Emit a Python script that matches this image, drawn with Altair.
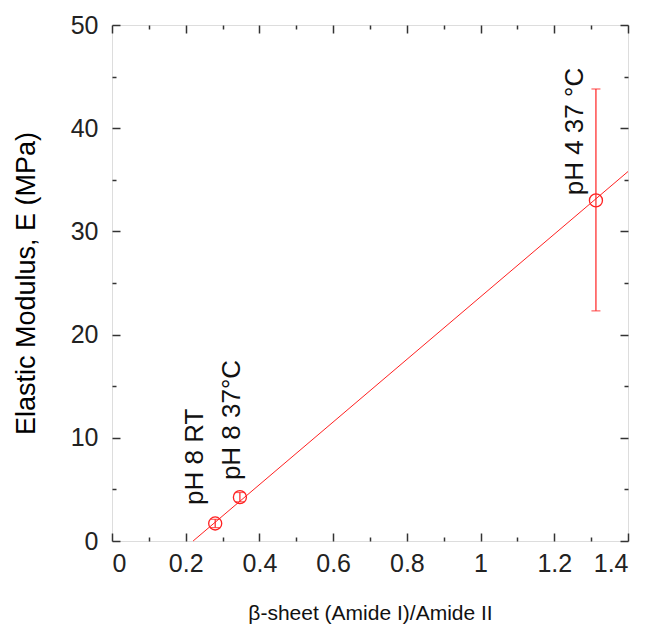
import altair as alt
import pandas as pd

# ---- data ----
x_vals = [0.28, 0.347, 1.313]
y_vals = [1.7, 4.25, 33.0]
y_err_lo = [1.3, 3.8, 22.3]
y_err_hi = [2.1, 4.7, 43.8]

labels = ["pH 8 RT", "pH 8 37°C", "pH 4 37 °C"]
label_x = [0.225, 0.326, 1.256]
label_y = [3.5, 5.9, 33.5]

fit_x = [0.22, 1.4]
fit_y = [0.0, 35.8]

x_major = [0, 0.2, 0.4, 0.6, 0.8, 1.0, 1.2, 1.4]
x_minor = [0.1, 0.3, 0.5, 0.7, 0.9, 1.1, 1.3]
y_major = [0, 10, 20, 30, 40, 50]
y_minor = [5, 15, 25, 35, 45]

x_title = "β-sheet (Amide I)/Amide II"
y_title = "Elastic Modulus, E (MPa)"

# ---- layout constants ----
W, H = 516, 516
RED = "#ff2020"
FRAME = "#333333"
FONT = "Liberation Sans"

pts = pd.DataFrame({"x": x_vals, "y": y_vals, "lo": y_err_lo, "hi": y_err_hi})
lab = pd.DataFrame({"x": label_x, "y": label_y, "t": labels})
fit = pd.DataFrame({"x": fit_x, "y": fit_y})

xs = alt.Scale(domain=[0, 1.4], nice=False, zero=False)
ys = alt.Scale(domain=[0, 50], nice=False, zero=False)


def tick_layer(x_orient, y_orient, xv, yv, size):
    xa = alt.Axis(orient=x_orient, offset=-H, values=xv, tickSize=size, tickWidth=1.5,
                  tickColor=FRAME, labels=False, domain=False, grid=False, title=None)
    ya = alt.Axis(orient=y_orient, offset=-W, values=yv, tickSize=size, tickWidth=1.5,
                  tickColor=FRAME, labels=False, domain=False, grid=False, title=None)
    return alt.Chart(pts).mark_point(opacity=0).encode(
        x=alt.X("x:Q", scale=xs, axis=xa),
        y=alt.Y("y:Q", scale=ys, axis=ya),
    )


main_axes = alt.Chart(pts).mark_point(opacity=0).encode(
    x=alt.X("x:Q", scale=xs, axis=alt.Axis(
        orient="bottom", values=x_major, labelExpr="format(datum.value, '~g')",
        ticks=False, domain=False, grid=False, labelFontSize=25, labelFont=FONT,
        labelColor="#222222", labelPadding=10, title=x_title, titleFontSize=21,
        titleFont=FONT, titleFontWeight="normal", titleColor="#111111", titlePadding=26)),
    y=alt.Y("y:Q", scale=ys, axis=alt.Axis(
        orient="left", values=y_major, ticks=False, domain=False, grid=False,
        labelFontSize=25, labelFont=FONT, labelColor="#222222", labelPadding=14,
        title=y_title, titleFontSize=27, titleFont=FONT, titleFontWeight="normal",
        titleColor="#000000", titlePadding=30)),
)

fit_line = alt.Chart(fit).mark_line(color=RED, strokeWidth=1).encode(
    x=alt.X("x:Q", scale=xs, axis=None), y=alt.Y("y:Q", scale=ys, axis=None))

err_rule = alt.Chart(pts).mark_rule(color=RED, strokeWidth=1.2).encode(
    x=alt.X("x:Q", scale=xs, axis=None), y=alt.Y("lo:Q", scale=ys, axis=None), y2="hi:Q")
cap_lo = alt.Chart(pts).mark_tick(color=RED, orient="horizontal", size=9, thickness=1.2).encode(
    x=alt.X("x:Q", scale=xs, axis=None), y=alt.Y("lo:Q", scale=ys, axis=None))
cap_hi = alt.Chart(pts).mark_tick(color=RED, orient="horizontal", size=9, thickness=1.2).encode(
    x=alt.X("x:Q", scale=xs, axis=None), y=alt.Y("hi:Q", scale=ys, axis=None))
circles = alt.Chart(pts).mark_point(shape="circle", filled=False, size=170, color=RED,
                                    strokeWidth=1.3, opacity=1).encode(
    x=alt.X("x:Q", scale=xs, axis=None), y=alt.Y("y:Q", scale=ys, axis=None))
texts = alt.Chart(lab).mark_text(angle=270, align="left", baseline="middle", fontSize=26,
                                 font=FONT, color="#111111").encode(
    x=alt.X("x:Q", scale=xs, axis=None), y=alt.Y("y:Q", scale=ys, axis=None), text="t:N")

chart = alt.layer(
    main_axes,
    tick_layer("top", "right", x_major, y_major, 8),
    tick_layer("top", "right", x_minor, y_minor, 4),
    tick_layer("bottom", "left", x_major, y_major, 8),
    tick_layer("bottom", "left", x_minor, y_minor, 4),
    fit_line, err_rule, cap_lo, cap_hi, circles, texts,
).resolve_axis(x="independent", y="independent").properties(
    width=W, height=H,
    autosize=alt.AutoSizeParams(type="none"),
    padding={"left": 112, "top": 25, "right": 21, "bottom": 90},
).configure_view(stroke=FRAME, strokeWidth=1.5).configure(background="white")

chart.save("out.html", embed_options={"renderer": "svg", "actions": False})
